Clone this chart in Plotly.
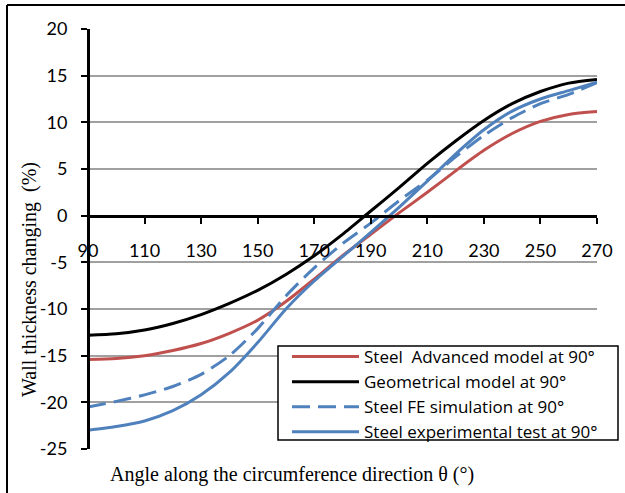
import plotly.graph_objects as go

angle = [90, 100, 110, 120, 130, 140, 150, 160, 170, 180, 190, 200, 210, 220, 230, 240, 250, 260, 270]

advanced = [-15.4, -15.3, -15.0, -14.45, -13.7, -12.6, -11.2, -9.2, -6.8, -4.3, -2.0, 0.3, 2.5, 4.8, 7.0, 8.8, 10.1, 10.85, 11.15]
geometrical = [-12.8, -12.65, -12.25, -11.55, -10.6, -9.4, -8.0, -6.3, -4.3, -2.0, 0.5, 3.0, 5.6, 8.0, 10.2, 12.0, 13.3, 14.2, 14.6]
fe_sim = [-20.5, -19.9, -19.2, -18.3, -17.0, -15.0, -12.1, -8.6, -5.6, -3.0, -0.8, 1.6, 3.8, 6.3, 8.6, 10.5, 12.0, 13.0, 14.25]
experimental = [-23.0, -22.6, -22.0, -20.9, -19.2, -16.8, -13.6, -10.0, -7.0, -4.4, -1.8, 0.9, 3.7, 6.6, 9.2, 11.2, 12.5, 13.4, 14.3]

names = ["Steel  Advanced model at 90°", "Geometrical model at 90°",
         "Steel FE simulation at 90°", "Steel experimental test at 90°"]
series = [advanced, geometrical, fe_sim, experimental]
colors = ["#C0504D", "#000000", "#4F81BD", "#4F81BD"]
dashes = ["solid", "solid", "18px,8px", "solid"]

x_ticks = list(range(90, 271, 20))
y_ticks = list(range(-25, 21, 5))

SANS = "Lato"
LEG = "Open Sans"
SERIF = "Liberation Serif"

fig = go.Figure()
for n, s, c, d in zip(names, series, colors, dashes):
    fig.add_trace(go.Scatter(x=angle, y=s, name=n, mode="lines",
                             line=dict(color=c, width=3, dash=d, shape="spline", smoothing=0.7)))

W, H = 625, 493
L, R, T, B = 88, 28, 29, 44
pw, ph = W - L - R, H - T - B

def px_x(p):
    return (p - L) / pw

def px_y(p):
    return (H - B - p) / ph

fig.update_layout(
    width=W, height=H,
    margin=dict(l=L, r=R, t=T, b=B),
    paper_bgcolor="white", plot_bgcolor="white",
    font=dict(family=SANS, size=18, color="#000000"),
    showlegend=True,
    legend=dict(
        x=px_x(287), y=px_y(339), xanchor="left", yanchor="top",
        bgcolor="rgba(0,0,0,0)", borderwidth=0,
        font=dict(family=LEG, size=17, color="#000000"),
        itemwidth=67, tracegroupgap=0,
    ),
    xaxis=dict(
        range=[90, 270], tickvals=x_ticks, ticktext=[str(v) for v in x_ticks],
        showgrid=False, zeroline=False,
        showline=True, linecolor="#000000", linewidth=3,
        ticks="outside", ticklen=6, tickwidth=2, tickcolor="#000000",
        anchor="free", position=25 / 45,
        ticklabelstandoff=12,
        tickfont=dict(family=SANS, size=18, color="#000000"),
    ),
    yaxis=dict(
        range=[-25, 20], tickvals=y_ticks, ticktext=[str(v) for v in y_ticks],
        showgrid=True, gridcolor="#A0A0A0", gridwidth=1.5, zeroline=False,
        showline=True, linecolor="#000000", linewidth=3,
        anchor="free", position=0,
        ticks="outside", ticklen=6, tickwidth=2, tickcolor="#000000",
        ticklabelstandoff=10,
        tickfont=dict(family=SANS, size=18, color="#000000"),
    ),
    annotations=[
        dict(text="Wall thickness changing  (%)", xref="paper", yref="paper",
             x=px_x(29), y=px_y(280), xanchor="center", yanchor="middle",
             textangle=-90, showarrow=False,
             font=dict(family=SERIF, size=20, color="#000000")),
        dict(text="Angle along the circumference direction θ (°)", xref="paper", yref="paper",
             x=px_x(292), y=px_y(474), xanchor="center", yanchor="middle",
             showarrow=False,
             font=dict(family=SERIF, size=20, color="#000000")),
    ],
    shapes=[
        dict(type="line", xref="paper", yref="paper",
             x0=px_x(7), x1=px_x(626), y0=px_y(5), y1=px_y(5),
             line=dict(color="#000000", width=2)),
        dict(type="line", xref="paper", yref="paper",
             x0=px_x(7), x1=px_x(7), y0=px_y(5), y1=px_y(494),
             line=dict(color="#000000", width=2)),
        # legend frame
        dict(type="rect", xref="paper", yref="paper", layer="above",
             x0=px_x(278), x1=px_x(618), y0=px_y(440), y1=px_y(346),
             fillcolor="white", line=dict(color="#000000", width=1.5)),
    ],
)

fig.write_html("out.html", config={"displayModeBar": False},
               post_script="document.body.style.margin='0';")
